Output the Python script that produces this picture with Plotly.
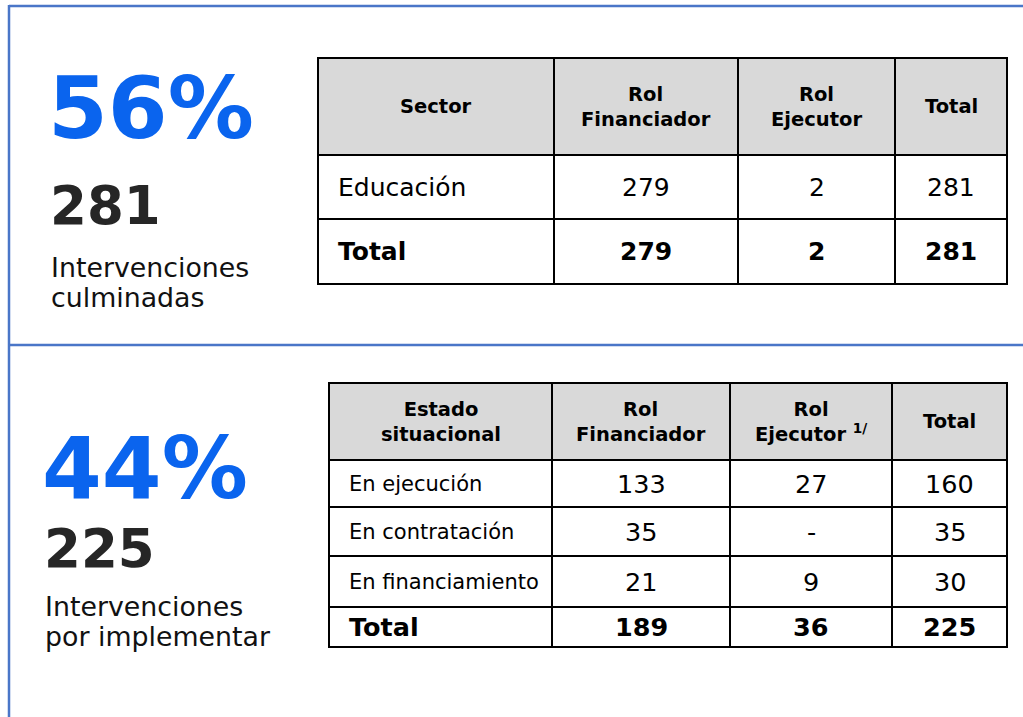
import plotly.graph_objects as go

# ---------------- data ----------------
pct_culminadas = "56%"
n_culminadas = 281
label_culminadas = ["Intervenciones", "culminadas"]

t1_header = ["Sector", "Rol<br>Financiador", "Rol<br>Ejecutor", "Total"]
t1_sector = ["Educación"]
t1_financiador = [279]
t1_ejecutor = [2]
t1_total = [281]
t1_sum = ["Total", 279, 2, 281]

pct_por_impl = "44%"
n_por_impl = 225
label_por_impl = ["Intervenciones", "por implementar"]

t2_header = ["Estado<br>situacional", "Rol<br>Financiador", "Rol<br>Ejecutor <sup>1/</sup>", "Total"]
t2_estado = ["En ejecución", "En contratación", "En financiamiento"]
t2_financiador = [133, 35, 21]
t2_ejecutor = [27, None, 9]
t2_total = [160, 35, 30]
t2_sum = ["Total", 189, 36, 225]

# ---------------- layout / style ----------------
W, H = 1023, 717
FONT = "DejaVu Sans"
BLUE = "#0a64ee"
DARK = "#262626"
FRAME = "#4a76c8"
HEAD_FILL = "#d9d9d9"

fig = go.Figure()
shapes = []
ann = []


def fmt(v):
    return "-" if v is None else str(v)


def draw_table(x0, y0, colw, rowh, header, body_rows, total_row,
               head_size, label_size, num_size, total_size, pad):
    xs = [x0]
    for w in colw:
        xs.append(xs[-1] + w)
    ys = [y0]
    for h in rowh:
        ys.append(ys[-1] + h)
    # cells
    for r in range(len(rowh)):
        for c in range(len(colw)):
            shapes.append(dict(type="rect", xref="x", yref="y",
                               x0=xs[c], x1=xs[c + 1], y0=ys[r], y1=ys[r + 1],
                               fillcolor=HEAD_FILL if r == 0 else "white",
                               line=dict(color="black", width=2), layer="below"))
    # header text
    for c, txt in enumerate(header):
        ann.append(dict(x=(xs[c] + xs[c + 1]) / 2, y=(ys[0] + ys[1]) / 2,
                        text=f"<b>{txt}</b>", showarrow=False,
                        xanchor="center", yanchor="middle",
                        font=dict(family=FONT, size=head_size, color="black")))
    # body rows
    rows = body_rows + [total_row]
    for r, row in enumerate(rows):
        yc = (ys[r + 1] + ys[r + 2]) / 2
        is_total = r == len(rows) - 1
        for c, v in enumerate(row):
            txt = fmt(v)
            if is_total:
                txt = f"<b>{txt}</b>"
                size = total_size
            else:
                size = label_size if c == 0 else num_size
            if c == 0:
                ann.append(dict(x=xs[0] + pad, y=yc, text=txt, showarrow=False,
                                xanchor="left", yanchor="middle",
                                font=dict(family=FONT, size=size, color="black")))
            else:
                ann.append(dict(x=(xs[c] + xs[c + 1]) / 2, y=yc, text=txt,
                                showarrow=False, xanchor="center", yanchor="middle",
                                font=dict(family=FONT, size=size, color="black")))


# table 1
t1_rows = [[t1_sector[i], t1_financiador[i], t1_ejecutor[i], t1_total[i]]
           for i in range(len(t1_sector))]
draw_table(318, 58, [236, 184, 157, 112], [97, 64, 65],
           t1_header, t1_rows, t1_sum,
           head_size=19.5, label_size=25, num_size=25, total_size=25, pad=18)

# table 2
t2_rows = [[t2_estado[i], t2_financiador[i], t2_ejecutor[i], t2_total[i]]
           for i in range(len(t2_estado))]
draw_table(329, 383, [223, 178, 162, 115], [77, 47, 49, 51, 40],
           t2_header, t2_rows, t2_sum,
           head_size=19.5, label_size=21, num_size=25.5, total_size=25.5, pad=18)

# frame lines
shapes.append(dict(type="line", xref="x", yref="y", x0=9, x1=W, y0=6, y1=6,
                   line=dict(color=FRAME, width=2.5)))
shapes.append(dict(type="line", xref="x", yref="y", x0=9, x1=9, y0=5, y1=H,
                   line=dict(color=FRAME, width=2.5)))
shapes.append(dict(type="line", xref="x", yref="y", x0=9, x1=W, y0=345, y1=345,
                   line=dict(color=FRAME, width=2.5)))

# KPI texts
def kpi(x, y_pct, y_num, y_l1, y_l2, pct, num, labels):
    ann.append(dict(x=x - 4, y=y_pct, text=f"<b>{pct}</b>", showarrow=False,
                    xanchor="left", yanchor="middle",
                    font=dict(family=FONT, size=86, color=BLUE)))
    ann.append(dict(x=x - 2, y=y_num, text=f"<b>{num}</b>", showarrow=False,
                    xanchor="left", yanchor="middle",
                    font=dict(family=FONT, size=53, color=DARK)))
    ann.append(dict(x=x - 1, y=y_l1, text=labels[0], showarrow=False,
                    xanchor="left", yanchor="middle",
                    font=dict(family=FONT, size=26.8, color="#111111")))
    ann.append(dict(x=x - 1, y=y_l2, text=labels[1], showarrow=False,
                    xanchor="left", yanchor="middle",
                    font=dict(family=FONT, size=26.8, color="#111111")))


kpi(50, 108, 205, 267, 297, pct_culminadas, n_culminadas, label_culminadas)
kpi(44, 468, 548, 606, 636, pct_por_impl, n_por_impl, label_por_impl)

fig.update_layout(
    width=W, height=H,
    margin=dict(l=0, r=0, t=0, b=0),
    paper_bgcolor="white", plot_bgcolor="white",
    xaxis=dict(range=[0, W], visible=False, fixedrange=True),
    yaxis=dict(range=[H, 0], visible=False, fixedrange=True),
    shapes=shapes, annotations=ann, showlegend=False,
)

fig.write_html("out.html", config={"displayModeBar": False},
               post_script="document.body.style.margin='0';"
                           "document.body.style.overflow='hidden';")
